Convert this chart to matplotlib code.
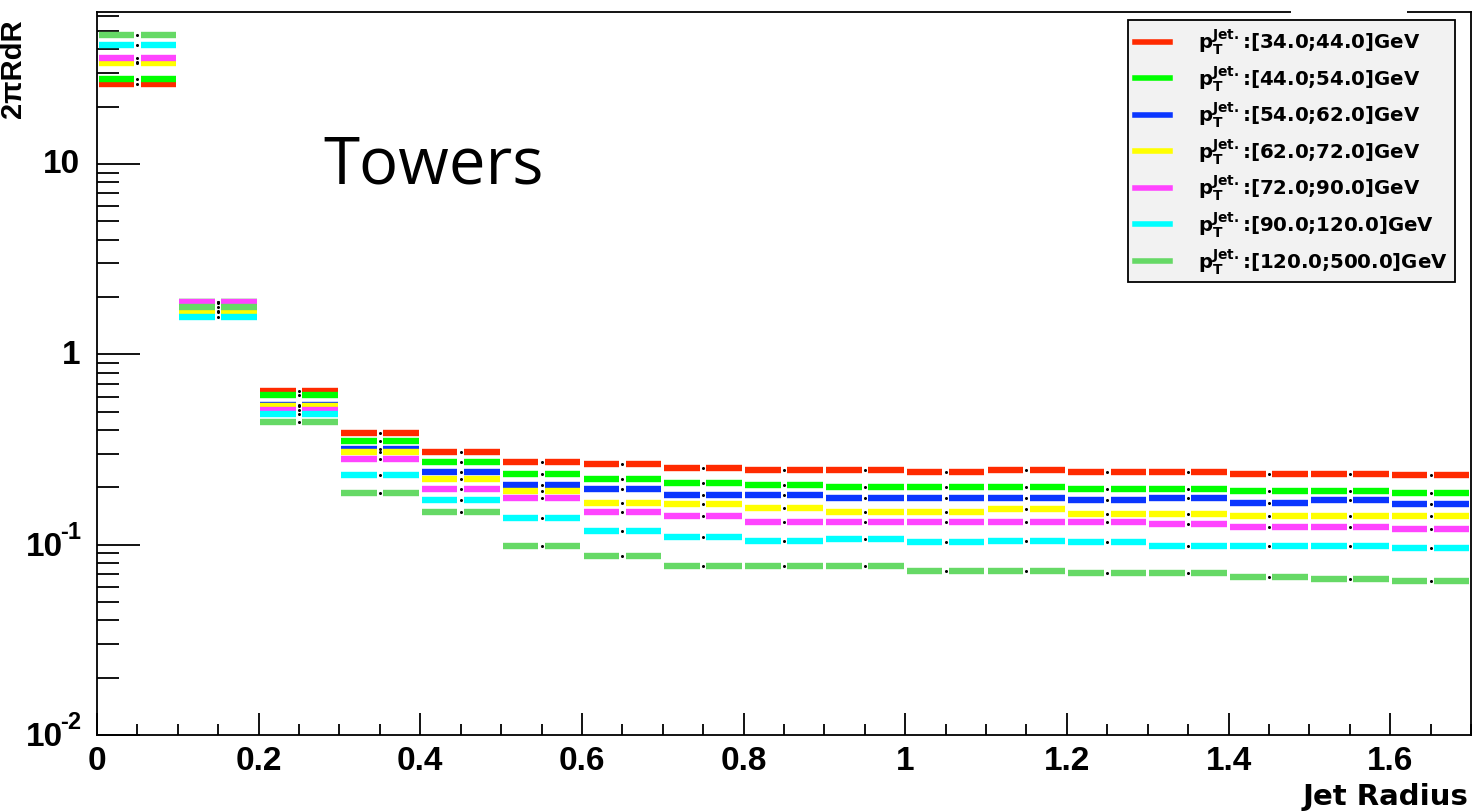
import numpy as np
import matplotlib
matplotlib.use("Agg")
import matplotlib.pyplot as plt
from matplotlib.ticker import FixedLocator, LogLocator, MultipleLocator, NullFormatter
from matplotlib.lines import Line2D
from matplotlib.patches import Rectangle
from matplotlib.transforms import offset_copy

plt.rcParams['font.family'] = ['Liberation Sans', 'DejaVu Sans']
plt.rcParams['mathtext.fontset'] = 'custom'
plt.rcParams['mathtext.rm'] = 'DejaVu Sans:bold'
plt.rcParams['mathtext.bf'] = 'DejaVu Sans:bold'
plt.rcParams['mathtext.it'] = 'DejaVu Sans:bold'

# jet radius bins (width 0.1)
bin_edges = np.round(np.arange(0.0, 1.71, 0.1), 2)

labels = [
    "[34.0;44.0]GeV",
    "[44.0;54.0]GeV",
    "[54.0;62.0]GeV",
    "[62.0;72.0]GeV",
    "[72.0;90.0]GeV",
    "[90.0;120.0]GeV",
    "[120.0;500.0]GeV",
]
colors = ['#ff2a00', '#00ff00', '#0a36ff', '#ffff00', '#ff44ff', '#00ffff', '#66d966']

pt_34_44 = [26.3, 1.85, 0.645, 0.384, 0.306, 0.271, 0.266, 0.253, 0.247, 0.247,
            0.242, 0.248, 0.242, 0.242, 0.236, 0.236, 0.231]
pt_44_54 = [27.8, 1.88, 0.610, 0.349, 0.271, 0.236, 0.220, 0.210, 0.205, 0.200,
            0.200, 0.200, 0.196, 0.196, 0.192, 0.192, 0.187]
pt_54_62 = [34.5, 1.66, 0.541, 0.319, 0.242, 0.205, 0.196, 0.183, 0.183, 0.175,
            0.175, 0.175, 0.171, 0.175, 0.166, 0.171, 0.163]
pt_62_72 = [33.9, 1.69, 0.534, 0.306, 0.220, 0.192, 0.166, 0.163, 0.156, 0.148,
            0.149, 0.153, 0.145, 0.145, 0.142, 0.142, 0.142]
pt_72_90 = [35.8, 1.89, 0.509, 0.283, 0.196, 0.175, 0.148, 0.142, 0.132, 0.132,
            0.132, 0.132, 0.132, 0.129, 0.124, 0.124, 0.121]
pt_90_120 = [42.1, 1.57, 0.487, 0.231, 0.171, 0.138, 0.118, 0.110, 0.105, 0.107,
             0.103, 0.105, 0.103, 0.098, 0.098, 0.098, 0.0957]
pt_120_500 = [47.4, 1.78, 0.441, 0.187, 0.148, 0.098, 0.0873, 0.0776, 0.0776, 0.0776,
              0.0725, 0.0725, 0.0711, 0.0711, 0.0677, 0.0661, 0.0645]

series = [pt_34_44, pt_44_54, pt_54_62, pt_62_72, pt_72_90, pt_90_120, pt_120_500]

# y axis decade labels: (value, mantissa, exponent)
ytick_vals = [0.01, 0.1, 1, 10]
ytick_base = ['10', '10', '1', '10']
ytick_exp = ['-2', '-1', '', '']

W, H = 1473, 812
fig = plt.figure(figsize=(W / 100, H / 100), dpi=100)
ax = fig.add_axes([97 / W, 1 - 736 / H, (1471 - 97) / W, (736 - 13) / H])

lw = 4.6
gap = 0.004
centers = 0.5 * (bin_edges[:-1] + bin_edges[1:])
for vals, col in zip(series, colors):
    for i, v in enumerate(vals):
        x0, x1 = bin_edges[i], bin_edges[i + 1]
        xc = centers[i]
        ax.plot([x0 + 0.002, xc - gap], [v, v], color=col, lw=lw, solid_capstyle='butt')
        ax.plot([xc + gap, x1 - 0.002], [v, v], color=col, lw=lw, solid_capstyle='butt')
    ax.plot(centers, vals, 'o', color='black', ms=2.2, mew=0)

ax.set_yscale('log')
ax.set_xlim(0, 1.7)
ax.set_ylim(0.01, 62.8)

ax.yaxis.set_major_locator(FixedLocator(ytick_vals))
ax.yaxis.set_major_formatter(NullFormatter())
ax.yaxis.set_minor_locator(LogLocator(base=10, subs=np.arange(2, 10)))
ax.yaxis.set_minor_formatter(NullFormatter())
ax.xaxis.set_major_locator(MultipleLocator(0.2))
ax.xaxis.set_minor_locator(MultipleLocator(0.05))
ax.xaxis.set_major_formatter(plt.FuncFormatter(lambda v, p: '0' if abs(v) < 1e-9 else ('%g' % v)))

ax.tick_params(axis='y', which='major', direction='in', length=31, width=1.3)
ax.tick_params(axis='y', which='minor', direction='in', length=16, width=1.3)
ax.tick_params(axis='x', which='major', direction='in', length=16, width=1.3, labelsize=24, pad=7)
ax.tick_params(axis='x', which='minor', direction='in', length=8, width=1.3)
for lab in ax.get_xticklabels():
    lab.set_fontweight('bold')
for sp in ax.spines.values():
    sp.set_linewidth(1.3)

# decade labels with short-dash exponents
ytrans = ax.get_yaxis_transform()
for val, base, ex in zip(ytick_vals, ytick_base, ytick_exp):
    if ex:
        tb = offset_copy(ytrans, fig=fig, x=-34, y=-2, units='dots')
        ax.text(0, val, base, transform=tb, ha='right', va='center',
                fontsize=24, fontweight='bold')
        te = offset_copy(ytrans, fig=fig, x=-16, y=2, units='dots')
        ax.text(0, val, ex, transform=te, ha='right', va='bottom',
                fontsize=17, fontweight='bold')
    else:
        tb = offset_copy(ytrans, fig=fig, x=-17, y=0, units='dots')
        ax.text(0, val, base, transform=tb, ha='right', va='center',
                fontsize=24, fontweight='bold')

# gap in the top frame line
fig.patches.append(Rectangle((1291 / W, 1 - 16 / H), (1407 - 1291) / W, 6 / H,
                             transform=fig.transFigure, facecolor='white',
                             edgecolor='none', zorder=10))

handles = [Line2D([], [], color=c, lw=4) for c in colors]
leg_labels = [r'p$_{\mathrm{T}}^{\mathrm{Jet.}}$:' + s for s in labels]
leg = fig.legend(handles, leg_labels, loc='upper left',
                 bbox_to_anchor=(1128 / W, 1 - 21 / H), borderaxespad=0,
                 frameon=True, fancybox=False, edgecolor='black', facecolor='#f2f2f2',
                 framealpha=1, prop={'family': 'DejaVu Sans', 'weight': 'bold', 'size': 14.2},
                 handlelength=1.8, handletextpad=1.4, labelspacing=0.37, borderpad=0.35)
leg.get_frame().set_linewidth(1.3)

fig.text(323 / W, 1 - 184 / H, 'Towers', fontsize=47, family=['Open Sans', 'DejaVu Sans'],
         ha='left', va='baseline')
fig.text(1468 / W, 1 - 805 / H, 'Jet Radius', fontsize=21, fontweight='bold',
         family='DejaVu Sans', ha='right', va='baseline')
fig.text(13 / W, 1 - 118 / H, '2πRdR', fontsize=21, fontweight='bold', rotation=90,
         ha='center', va='bottom')

fig.savefig('out.png', dpi=100)
